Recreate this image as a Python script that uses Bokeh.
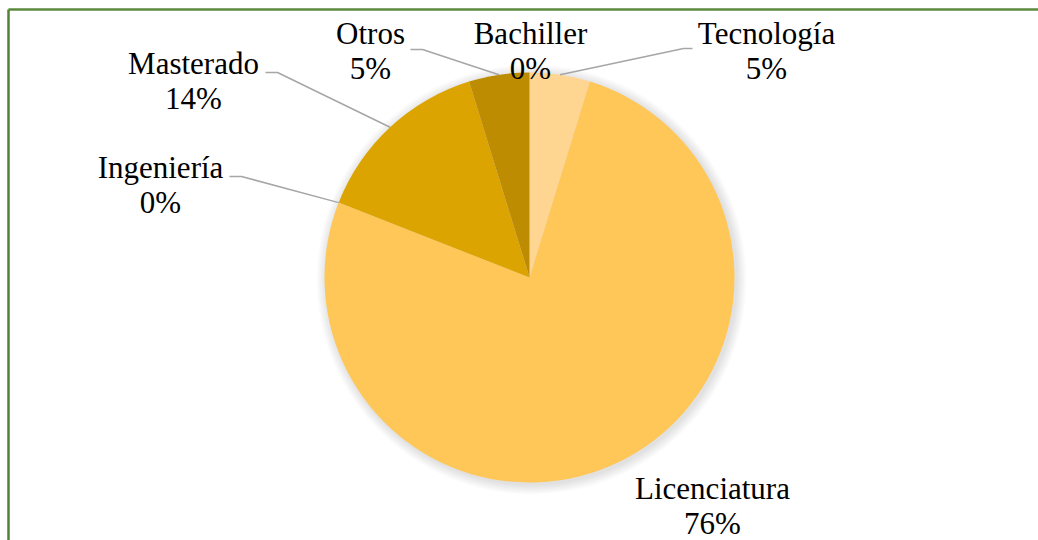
import math
from bokeh.plotting import figure
from bokeh.models import Range1d
from bokeh.core.properties import value
from bokeh.embed import file_html
from bokeh.resources import INLINE

# ---- data ----
categories = ["Tecnología", "Licenciatura", "Ingeniería", "Masterado", "Otros", "Bachiller"]
counts = [1, 16, 0, 3, 1, 0]
colors = ["#FFD592", "#FFC658", "#DBA400", "#DBA400", "#BE8C00", "#BE8C00"]

# ---- layout (page px) ----
W, H = 1038, 540
def Y(page_y):
    return H - page_y
def X(page_x):
    return page_x

cx, cy = X(529), Y(277)
R = 205

p = figure(width=W, height=H, output_backend="svg", toolbar_location=None,
           x_range=Range1d(0, W), y_range=Range1d(0, H),
           x_axis_location=None, y_axis_location=None, min_border=0)
p.grid.visible = False
p.outline_line_color = None
p.background_fill_color = "white"
p.border_fill_color = "white"

# chart frame (only top and left edges fall inside the view)
p.line([X(8), X(1045)], [Y(9), Y(9)], line_color="#5C8A3C", line_width=2.5)
p.line([X(8), X(8)], [Y(9), Y(560)], line_color="#548235", line_width=2.5)

# soft shadow
for i in range(10):
    p.circle(x=[cx + 2], y=[cy - 2], radius=R + 1 + i, fill_color="black",
             fill_alpha=0.012, line_color=None)

total = sum(counts)
start = math.pi / 2
starts, ends, mids = [], [], []
for c in counts:
    ang = c / total * 2 * math.pi
    starts.append(start - ang)
    ends.append(start)
    mids.append(start - ang / 2)
    start -= ang

for s, e, col, c in zip(starts, ends, colors, counts):
    if c > 0:
        p.wedge(x=[cx], y=[cy], radius=R, start_angle=[s], end_angle=[e],
                fill_color=col, line_color=None)

# label anchors (center x, baseline page y) and leader elbows
label_pos = {
    "Tecnología": (766, 43, (692, 48), "left"),
    "Licenciatura": (712, 498, None, None),
    "Ingeniería": (160, 177, (229, 176), "right"),
    "Masterado": (193, 73, (265, 72), "right"),
    "Otros": (370, 43, (410, 49), "right"),
    "Bachiller": (530, 43, None, None),
}
font = value("Liberation Serif")
for name, c, m in zip(categories, counts, mids):
    lx, ly, elbow, side = label_pos[name]
    pct = f"{round(c / total * 100)}%"
    p.text(x=[X(lx)], y=[Y(ly - 10)], text=[name], text_font=font, text_font_size="31px",
           text_align="center", text_baseline="middle", text_color="black")
    p.text(x=[X(lx)], y=[Y(ly + 25)], text=[pct], text_font=font, text_font_size="31px",
           text_align="center", text_baseline="middle", text_color="black")
    if elbow is not None:
        ex, ey = elbow
        px_ = cx + R * math.cos(m)
        py_ = cy + R * math.sin(m)
        ex2 = ex + (12 if side == "right" else -9)
        p.line([X(ex), X(ex2), px_], [Y(ey), Y(ey), py_], line_color="#A6A6A6", line_width=1.5)

open("out.html", "w").write(file_html(p, INLINE))
